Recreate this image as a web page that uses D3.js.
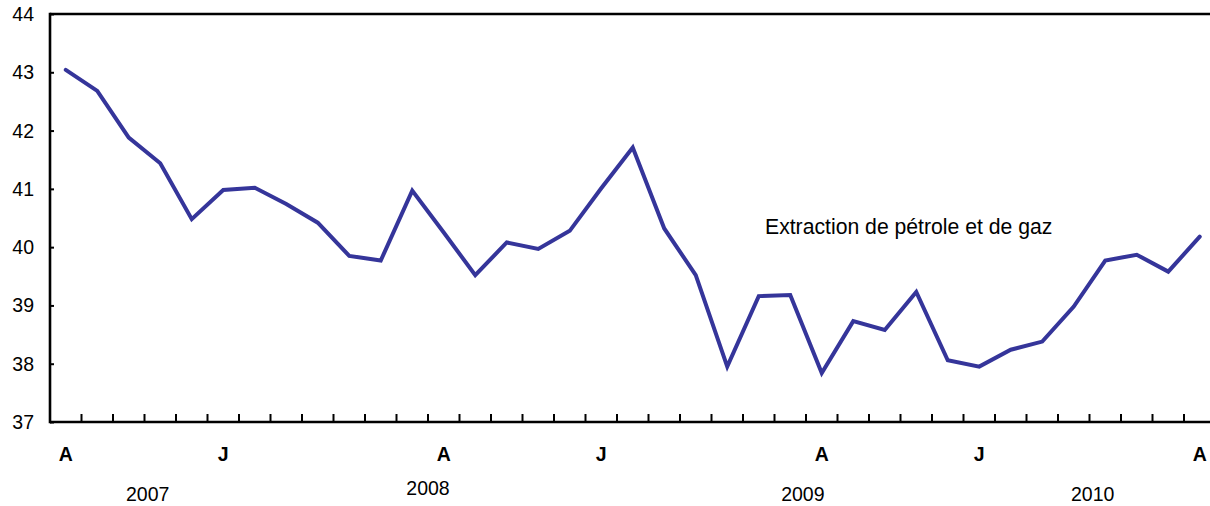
<!DOCTYPE html>
<html>
<head>
<meta charset="utf-8">
<script src="https://cdn.jsdelivr.net/npm/d3@7"></script>
<style>
body { margin: 0; background: #fff; }
text { font-family: "Liberation Sans", Arial, sans-serif; fill: #000; }
</style>
</head>
<body>
<svg id="chart" width="1210" height="506"></svg>
<script>
// monthly values, 37 months
var values = [43.04, 42.68, 41.88, 41.44, 40.48, 40.98, 41.02, 40.74, 40.42, 39.85,
	39.77, 40.97, 40.25, 39.52, 40.08, 39.97, 40.28, 41.01, 41.71, 40.32,
	39.52, 37.95, 39.16, 39.18, 37.84, 38.73, 38.58, 39.23, 38.06, 37.95,
	38.24, 38.38, 38.98, 39.77, 39.87, 39.58, 40.18];

var monthLabels = ["A", "", "", "", "", "J", "", "", "", "", "", "", "A", "", "", "", "", "J",
	"", "", "", "", "", "", "A", "", "", "", "", "J", "", "", "", "", "", "", "A"];

var years = ["2007", "2008", "2009", "2010"];
var yearAt = [2.6, 11.5, 23.4, 32.6]; // in month units
var yearDrop = [0, -6, 0, 0];

var yTicks = [37, 38, 39, 40, 41, 42, 43, 44];
var seriesName = "Extraction de pétrole et de gaz";

function drawChart() {
	var svg = d3.select("#chart");
	var left = 50, plotTop = 14, bottom = 422;
	var step = 31.5;

	var x = d3.scaleBand()
		.domain(d3.range(values.length))
		.range([left, left + step * values.length]);

	var xc = function (i) { return x(i) + x.bandwidth() / 2; };
	var xf = d3.scaleLinear().domain([0, 1]).range([xc(0), xc(1)]);

	var y = d3.scaleLinear().domain([37, 44]).range([bottom, plotTop]);

	// frame
	svg.append("line")
		.attr("x1", left).attr("x2", 1210)
		.attr("y1", plotTop).attr("y2", plotTop)
		.attr("stroke", "#000").attr("stroke-width", 2.6);

	// y axis
	var yAxis = svg.append("g")
		.attr("transform", "translate(" + left + ",0)")
		.call(d3.axisRight(y).tickValues(yTicks).tickSize(4).tickFormat(""));
	yAxis.select(".domain").remove();
	yAxis.selectAll(".tick line").attr("stroke", "#000").attr("stroke-width", 2);

	svg.append("line")
		.attr("x1", left).attr("x2", left)
		.attr("y1", plotTop - 1.3).attr("y2", bottom + 1.3)
		.attr("stroke", "#000").attr("stroke-width", 2.6);

	svg.selectAll(".ylab")
		.data(yTicks)
		.enter().append("text")
		.attr("class", "ylab")
		.attr("x", 34)
		.attr("y", function (d) { return y(d); })
		.attr("dy", "0.36em")
		.attr("text-anchor", "end")
		.style("font-size", "19.5px")
		.text(function (d) { return d; });

	// x axis, ticks between months
	var xAxis = svg.append("g")
		.attr("transform", "translate(0," + bottom + ")")
		.call(d3.axisTop(x).tickValues(d3.range(1, values.length)).tickSize(8).tickFormat("").offset(0));
	xAxis.select(".domain").remove();
	xAxis.selectAll(".tick")
		.attr("transform", function (d) { return "translate(" + x(d) + ",0)"; });
	xAxis.selectAll(".tick line").attr("stroke", "#000").attr("stroke-width", 2);

	svg.append("line")
		.attr("x1", left).attr("x2", 1210)
		.attr("y1", bottom).attr("y2", bottom)
		.attr("stroke", "#000").attr("stroke-width", 2.6);

	svg.selectAll(".mlab")
		.data(monthLabels)
		.enter().append("text")
		.attr("class", "mlab")
		.attr("x", function (d, i) { return xc(i); })
		.attr("y", 461)
		.attr("text-anchor", "middle")
		.style("font-size", "19.5px")
		.style("font-weight", "bold")
		.text(function (d) { return d; });

	svg.selectAll(".yrlab")
		.data(years)
		.enter().append("text")
		.attr("class", "yrlab")
		.attr("x", function (d, i) { return xf(yearAt[i]); })
		.attr("y", function (d, i) { return 501 + yearDrop[i]; })
		.attr("text-anchor", "middle")
		.style("font-size", "19.5px")
		.text(function (d) { return d; });

	// series
	var line = d3.line()
		.x(function (d, i) { return xc(i); })
		.y(function (d) { return y(d); });

	svg.append("path")
		.datum(values)
		.attr("d", line)
		.attr("fill", "none")
		.attr("stroke", "#35359a")
		.attr("stroke-width", 4)
		.attr("stroke-linecap", "round");

	svg.append("text")
		.attr("x", 765)
		.attr("y", 234)
		.style("font-size", "21.2px")
		.text(seriesName);
}

drawChart();
</script>
</body>
</html>
